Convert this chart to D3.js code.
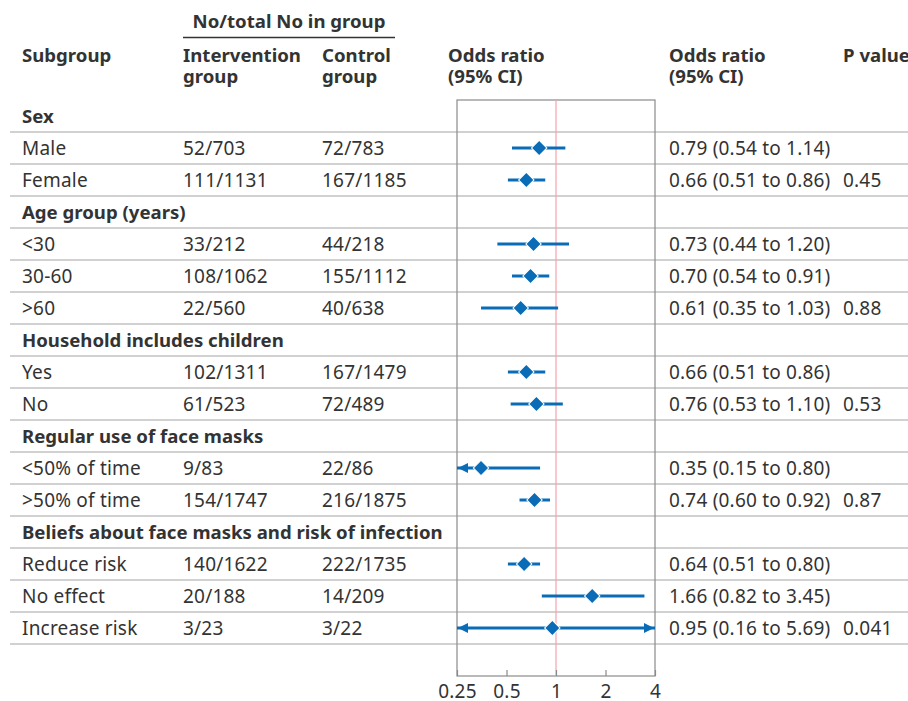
<!DOCTYPE html>
<html>
<head>
<meta charset="utf-8">
<script src="https://cdn.jsdelivr.net/npm/d3@7"></script>
<style>
html,body{margin:0;padding:0;background:#fff;}
svg{display:block;font-family:"Noto Sans",sans-serif;}
</style>
</head>
<body>
<svg id="chart" width="908" height="701"></svg>
<script>
// ---- data ----
const subgroups = ["Sex","Male","Female","Age group (years)","<30","30-60",">60",
  "Household includes children","Yes","No","Regular use of face masks","<50% of time",">50% of time",
  "Beliefs about face masks and risk of infection","Reduce risk","No effect","Increase risk"];
const headingRows = ["Sex","Age group (years)","Household includes children","Regular use of face masks","Beliefs about face masks and risk of infection"];
const interventionCounts = [null,"52/703","111/1131",null,"33/212","108/1062","22/560",null,"102/1311","61/523",null,"9/83","154/1747",null,"140/1622","20/188","3/23"];
const controlCounts = [null,"72/783","167/1185",null,"44/218","155/1112","40/638",null,"167/1479","72/489",null,"22/86","216/1875",null,"222/1735","14/209","3/22"];
const oddsRatios = [null,0.79,0.66,null,0.73,0.70,0.61,null,0.66,0.76,null,0.35,0.74,null,0.64,1.66,0.95];
const ciLower = [null,0.54,0.51,null,0.44,0.54,0.35,null,0.51,0.53,null,0.15,0.60,null,0.51,0.82,0.16];
const ciUpper = [null,1.14,0.86,null,1.20,0.91,1.03,null,0.86,1.10,null,0.80,0.92,null,0.80,3.45,5.69];
const pValues = ["","","0.45","","","","0.88","","","0.53","","","0.87","","","","0.041"];
const axisTicks = [0.25,0.5,1,2,4];

// ---- layout ----
const svg = d3.select("#chart");
const textCol = "#333333";
const blue = "#0a6cb6";
const fs = 19;
const fsBold = 18.6;
const ls = "0.2px";
const colX = {sub:22, int:183, ctl:322, orHead:448, orText:669, p:843};

const x = d3.scaleLog().base(2).domain([0.25,4]).range([457,655]);
const y = d3.scaleBand().domain(d3.range(subgroups.length)).range([100,644]);
const plotTop = 100, plotBottom = 676;

// header
const hdr = svg.append("g").attr("fill",textCol).attr("font-weight","bold").attr("font-size",fsBold);
hdr.append("text").attr("x",289).attr("y",28).attr("text-anchor","middle").text("No/total No in group");
svg.append("line").attr("x1",183).attr("x2",395).attr("y1",37.5).attr("y2",37.5)
  .attr("stroke",textCol).attr("stroke-width",1.5);
const twoLine = (xp, l1, l2) => {
  hdr.append("text").attr("x",xp).attr("y",62).text(l1);
  if (l2) hdr.append("text").attr("x",xp).attr("y",83).text(l2);
};
twoLine(colX.sub,"Subgroup");
twoLine(colX.int,"Intervention","group");
twoLine(colX.ctl,"Control","group");
twoLine(colX.orHead,"Odds ratio","(95% CI)");
twoLine(colX.orText,"Odds ratio","(95% CI)");
twoLine(colX.p,"P value");

// row separators
svg.append("g").selectAll("line").data(d3.range(subgroups.length)).join("line")
  .attr("x1",10).attr("x2",908)
  .attr("y1",i=>y(i)+y.bandwidth()).attr("y2",i=>y(i)+y.bandwidth())
  .attr("stroke","#c2c2c2").attr("stroke-width",1.5);

// plot box
svg.append("rect").attr("x",x(0.25)).attr("y",plotTop)
  .attr("width",x(4)-x(0.25)).attr("height",plotBottom-plotTop)
  .attr("fill","none").attr("stroke","#8a8a8a").attr("stroke-width",1.2);

// reference line
svg.append("line").attr("x1",x(1)).attr("x2",x(1)).attr("y1",plotTop).attr("y2",plotBottom)
  .attr("stroke","#f3a3ae").attr("stroke-width",1.2);

// axis
const axis = d3.axisBottom(x).tickValues(axisTicks).tickFormat(d=>String(d))
  .tickSizeInner(-6).tickSizeOuter(0).tickPadding(9);
const ax = svg.append("g").attr("transform",`translate(0,${plotBottom})`).call(axis);
ax.select(".domain").remove();
ax.selectAll(".tick line").attr("stroke","#8a8a8a").attr("stroke-width",1.2);
ax.selectAll(".tick text").attr("fill",textCol).attr("font-size",fs).attr("letter-spacing",ls)
  .attr("font-family","Noto Sans, sans-serif");

// table text
const rows = svg.append("g").attr("fill",textCol).attr("font-size",fs);
const rc = i => y(i)+y.bandwidth()/2;
subgroups.forEach((s,i)=>{
  const heading = headingRows.includes(s);
  rows.append("text").attr("x",colX.sub).attr("y",rc(i)).attr("dy","0.35em")
    .attr("font-weight",heading?"bold":"normal").attr("font-size",heading?fsBold:fs)
    .attr("letter-spacing",heading?null:ls).text(s);
  const cell = (xp, t) => rows.append("text").attr("x",xp).attr("y",rc(i)).attr("dy","0.35em").attr("letter-spacing",ls).text(t);
  if (interventionCounts[i]) cell(colX.int, interventionCounts[i]);
  if (controlCounts[i]) cell(colX.ctl, controlCounts[i]);
  if (oddsRatios[i]!=null) cell(colX.orText, `${oddsRatios[i].toFixed(2)} (${ciLower[i].toFixed(2)} to ${ciUpper[i].toFixed(2)})`);
  if (pValues[i]) cell(colX.p, pValues[i]);
});

// forest marks
const [dMin,dMax] = x.domain();
const marks = svg.append("g");
const idx = d3.range(subgroups.length).filter(i=>oddsRatios[i]!=null);
marks.selectAll("line.ci").data(idx).join("line").attr("class","ci")
  .attr("x1",i=>x(Math.max(ciLower[i],dMin))).attr("x2",i=>x(Math.min(ciUpper[i],dMax)))
  .attr("y1",rc).attr("y2",rc).attr("stroke",blue).attr("stroke-width",3);
// arrows
const arrowLen = 10, arrowH = 5;
idx.forEach(i=>{
  if (ciLower[i] < dMin) {
    const xt = x(dMin)+1;
    marks.append("path").attr("d",`M${xt},${rc(i)}L${xt+arrowLen},${rc(i)-arrowH}L${xt+arrowLen},${rc(i)+arrowH}Z`).attr("fill",blue);
  }
  if (ciUpper[i] > dMax) {
    const xt = x(dMax)-1;
    marks.append("path").attr("d",`M${xt},${rc(i)}L${xt-arrowLen},${rc(i)-arrowH}L${xt-arrowLen},${rc(i)+arrowH}Z`).attr("fill",blue);
  }
});
const diamond = d3.symbol().type(d3.symbolSquare).size(118);
marks.selectAll("path.pt").data(idx).join("path").attr("class","pt")
  .attr("d",diamond())
  .attr("transform",i=>`translate(${x(oddsRatios[i])},${rc(i)}) rotate(45)`)
  .attr("fill",blue).attr("stroke","#fff").attr("stroke-width",1);
</script>
</body>
</html>
